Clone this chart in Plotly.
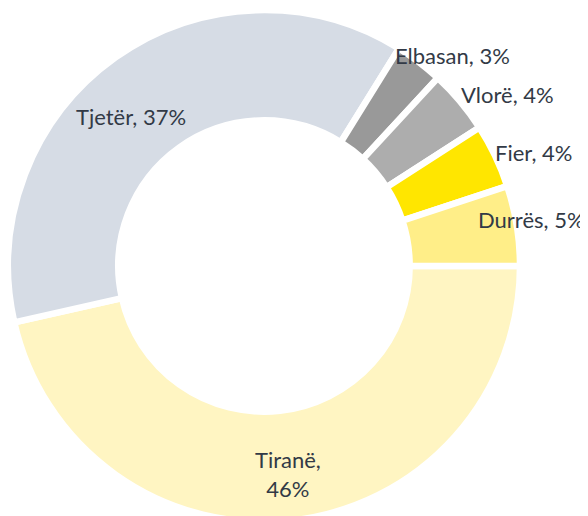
import plotly.graph_objects as go

# ---- data ----
labels = ["Tiranë", "Tjetër", "Elbasan", "Vlorë", "Fier", "Durrës"]
values = [46, 37, 3, 4, 4, 5]
label_texts = ["Tiranë,<br>46%", "Tjetër, 37%", "Elbasan, 3%", "Vlorë, 4%", "Fier, 4%", "Durrës, 5%"]
colors = ["#FFF5C2", "#D6DCE5", "#999999", "#ADADAD", "#FFE600", "#FFEE88"]

# page offset (body margin) compensation
OFF = 8
W, H = 588 - OFF, 516
# label centres in page pixels (layout only)
label_pos_px = [(288, 474), (131, 117), (452, 56), (508, 95), (533, 152), (531, 219)]

fig = go.Figure(go.Pie(
    labels=labels,
    values=values,
    sort=False,
    direction="clockwise",
    rotation=90,
    hole=0.569,
    marker=dict(colors=colors, line=dict(color="white", width=6.5)),
    textinfo="none",
    hoverinfo="label+value",
    domain=dict(x=[0, 512 / W], y=[2 / H, 514 / H]),
))

annotations = []
for txt, (px, py) in zip(label_texts, label_pos_px):
    annotations.append(dict(
        text=txt, x=(px - OFF) / W, y=1 - (py - OFF) / H, xref="paper", yref="paper",
        xanchor="center", yanchor="middle", showarrow=False,
        font=dict(family="Lato, sans-serif", size=22, color="#323A46"),
    ))

fig.update_layout(
    width=W, height=H,
    margin=dict(l=0, r=0, t=0, b=0),
    paper_bgcolor="white",
    plot_bgcolor="white",
    showlegend=False,
    annotations=annotations,
)

fig.write_html("out.html")
